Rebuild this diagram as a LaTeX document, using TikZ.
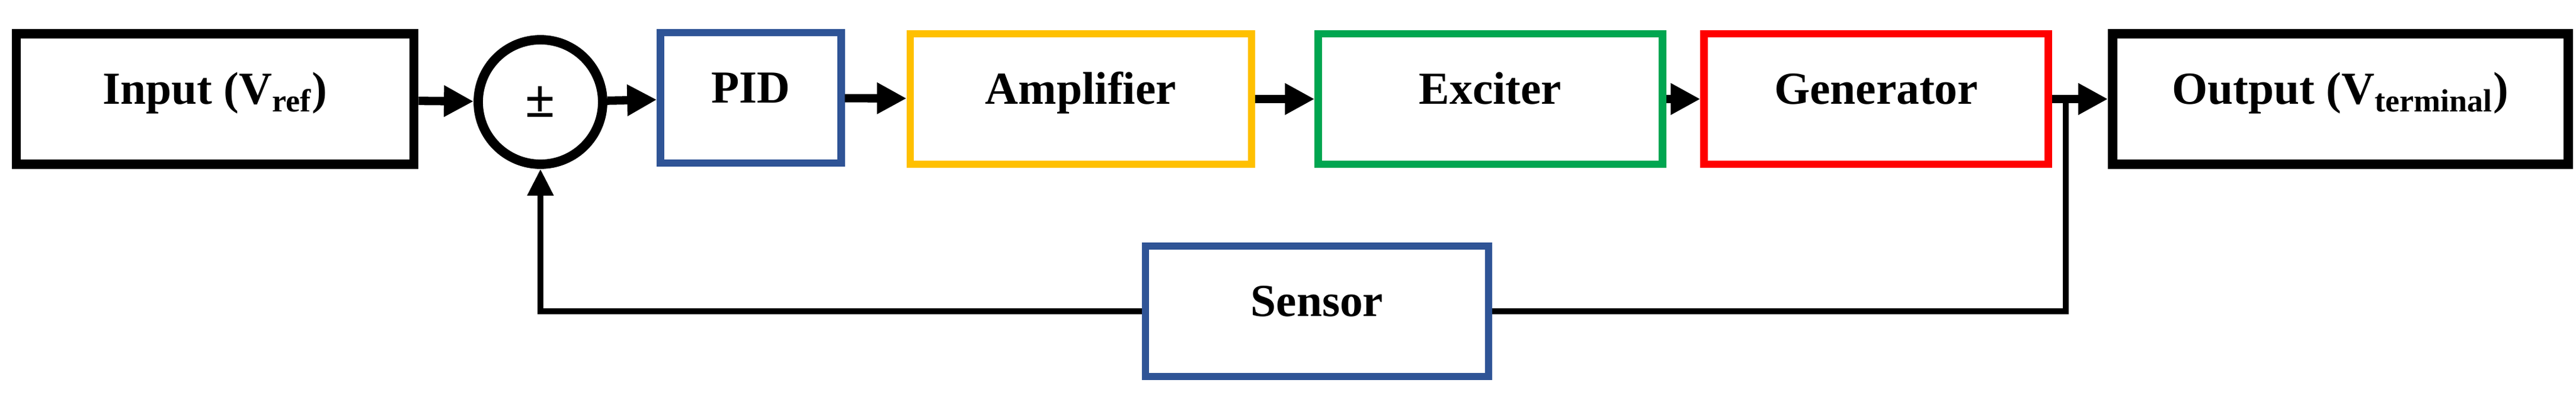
\documentclass[tikz,border=0pt]{standalone}
\usepackage{fontspec}
\setmainfont{Liberation Serif}
\usetikzlibrary{arrows.meta}
\definecolor{cblue}{RGB}{47,84,150}
\definecolor{cyel}{RGB}{255,192,0}
\definecolor{cgreen}{RGB}{0,166,80}
\definecolor{cred}{RGB}{255,0,0}
\begin{document}
\begin{tikzpicture}[
  blk/.style={draw, line width=4.5pt, minimum height=2.2cm, inner sep=0pt, text height=0.72em, text depth=0.22em, font=\fontsize{22}{26}\selectfont\bfseries},
  cblk/.style={blk, line width=3.5pt},
  arr/.style={line width=4pt, -{Triangle[length=0.5cm,width=0.5cm]}},
  fb/.style={line width=3pt}
]
\useasboundingbox (0,0) rectangle (43.47,6.77);
\node[blk, minimum width=6.71cm] (in) at (3.63,5.1) {Input (V\textsubscript{ref})};
\node[draw, circle, line width=4.5pt, minimum size=2.1cm, inner sep=0pt, font=\fontsize{26}{30}\selectfont\bfseries] (sum) at (9.12,5.05) {±};
\node[cblk, draw=cblue, minimum width=3.05cm] (pid) at (12.67,5.12) {PID};
\node[cblk, draw=cyel, minimum width=5.76cm] (amp) at (18.24,5.1) {Amplifier};
\node[cblk, draw=cgreen, minimum width=5.81cm] (exc) at (25.15,5.1) {Exciter};
\node[cblk, draw=cred, minimum width=5.81cm] (gen) at (31.66,5.1) {Generator};
\node[blk, minimum width=7.69cm] (out) at (39.495,5.1) {Output (V\textsubscript{terminal})};
\node[cblk, draw=cblue, minimum width=5.79cm] (sen) at (22.225,1.52) {Sensor};
\coordinate (tap) at (34.86,5.1);
\draw[arr] (in) -- (sum);
\draw[arr] (sum) -- (pid);
\draw[arr] (pid) -- (amp);
\draw[arr] (amp) -- (exc);
\draw[arr] (exc) -- (gen);
\draw[arr] (gen) -- (out);
\draw[fb] (tap) |- (sen.east);
\draw[fb, -{Triangle[length=0.45cm,width=0.42cm]}] (sen.west) -| (sum.south);
\end{tikzpicture}
\end{document}
